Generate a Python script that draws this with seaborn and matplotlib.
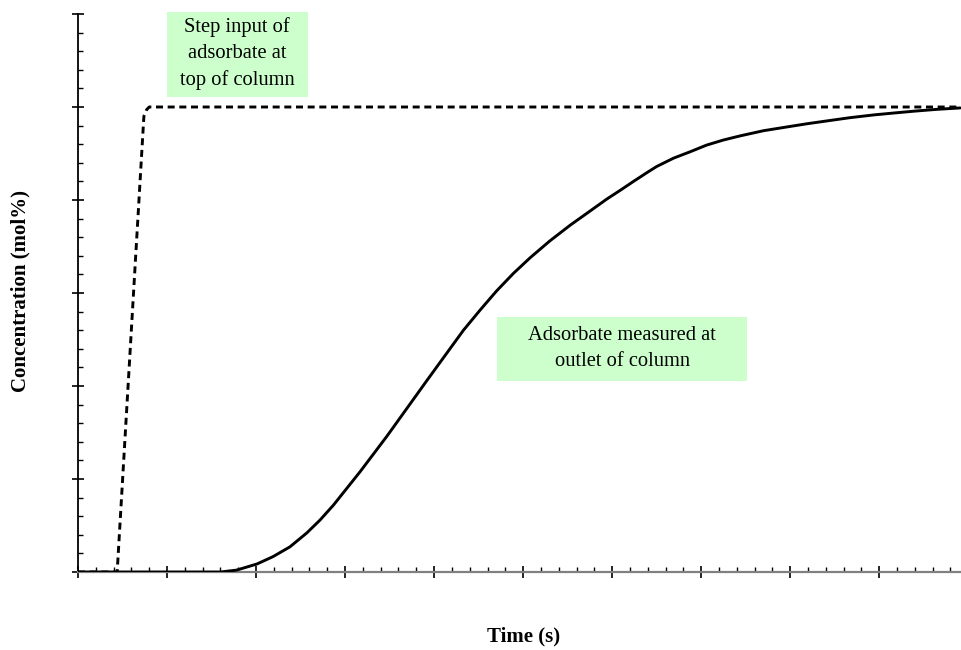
import numpy as np
import pandas as pd
import seaborn as sns
import matplotlib
matplotlib.use("Agg")
import matplotlib.pyplot as plt
from matplotlib.patches import Rectangle
from matplotlib.ticker import MultipleLocator

# Feed concentration: step input at the top of the column
step_time = [0.0, 0.44, 0.74, 0.77, 0.80, 9.93]
step_conc = [0.0, 0.0, 4.90, 4.97, 5.0, 5.0]

# Breakthrough curve measured at the column outlet
outlet_time = [0.0, 1.60, 1.78, 2.01, 2.19, 2.38, 2.57, 2.72, 2.87, 3.02, 3.17,
               3.32, 3.47, 3.62, 3.77, 3.92, 4.14, 4.33, 4.52, 4.70, 4.89, 5.08,
               5.30, 5.53, 5.75, 5.94, 6.10, 6.24, 6.40, 6.50, 6.69, 6.88, 7.06,
               7.25, 7.44, 7.70, 7.96, 8.19, 8.41, 8.67, 8.94, 9.16, 9.39, 9.65,
               9.91]
outlet_conc = [0.0, 0.0, 0.02, 0.086, 0.165, 0.27, 0.42, 0.56, 0.72, 0.90, 1.08,
               1.27, 1.46, 1.66, 1.86, 2.06, 2.35, 2.60, 2.82, 3.02, 3.21, 3.38,
               3.56, 3.73, 3.88, 4.01, 4.11, 4.20, 4.30, 4.36, 4.45, 4.52, 4.59,
               4.645, 4.69, 4.745, 4.785, 4.82, 4.85, 4.885, 4.915, 4.935, 4.955,
               4.975, 4.99]

x_label = "Time (s)"
y_label = "Concentration (mol%)"
note_input = "Step input of\nadsorbate at\ntop of column"
note_outlet = "Adsorbate measured at\noutlet of column"

sns.set_theme(style="white")
plt.rcParams["font.family"] = ["Liberation Serif", "DejaVu Serif"]

fig = plt.figure(figsize=(9.62, 6.5), dpi=100)
ax = fig.add_axes([78 / 962, 1 - 572 / 650, 884 / 962, 558 / 650])

step_df = pd.DataFrame({"t": step_time, "c": step_conc})
outlet_df = pd.DataFrame({"t": outlet_time, "c": outlet_conc})

sns.lineplot(data=outlet_df, x="t", y="c", ax=ax, color="black", lw=2.1,
             estimator=None, sort=False, zorder=3,
             solid_joinstyle="round", solid_capstyle="round")
sns.lineplot(data=step_df, x="t", y="c", ax=ax, color="black", lw=2.1,
             estimator=None, sort=False, linestyle=(0, (2.4, 1.6)), zorder=4)

ax.set_xlim(0, 9.93)
ax.set_ylim(0, 6)

ax.xaxis.set_major_locator(MultipleLocator(1))
ax.xaxis.set_minor_locator(MultipleLocator(0.2))
ax.yaxis.set_major_locator(MultipleLocator(1))
ax.yaxis.set_minor_locator(MultipleLocator(0.2))
ax.tick_params(axis="both", which="major", direction="inout", length=8,
               width=1.2, color="black", labelbottom=False, labelleft=False,
               bottom=True, left=True)
ax.tick_params(axis="both", which="minor", direction="in", length=3.8,
               width=1.0, color="black", bottom=True, left=True)

for side in ("top", "right"):
    ax.spines[side].set_visible(False)
ax.spines["left"].set_color("black")
ax.spines["left"].set_linewidth(1.3)
ax.spines["bottom"].set_color("#808080")
ax.spines["bottom"].set_linewidth(1.6)

ax.set_xlabel(x_label, fontsize=15, fontweight="bold", color="black")
ax.set_ylabel(y_label, fontsize=15, fontweight="bold", color="black")
ax.xaxis.set_label_coords(0.5045, -0.098)
ax.yaxis.set_label_coords(-0.054, 0.504)

# Annotation boxes
box_color = "#ccffcc"
ax.add_patch(Rectangle((1.0, 5.11), 1.58, 0.91, facecolor=box_color,
                       edgecolor="none", clip_on=False, zorder=1))
ax.text(1.79, 5.575, note_input, ha="center", va="center", fontsize=14.8,
        linespacing=1.48, color="black", zorder=2)
ax.add_patch(Rectangle((4.71, 2.05), 2.81, 0.69, facecolor=box_color,
                       edgecolor="none", clip_on=False, zorder=1))
ax.text(6.115, 2.40, note_outlet, ha="center", va="center", fontsize=14.8,
        linespacing=1.48, color="black", zorder=2)

fig.savefig("out.png", dpi=100, facecolor="white")
